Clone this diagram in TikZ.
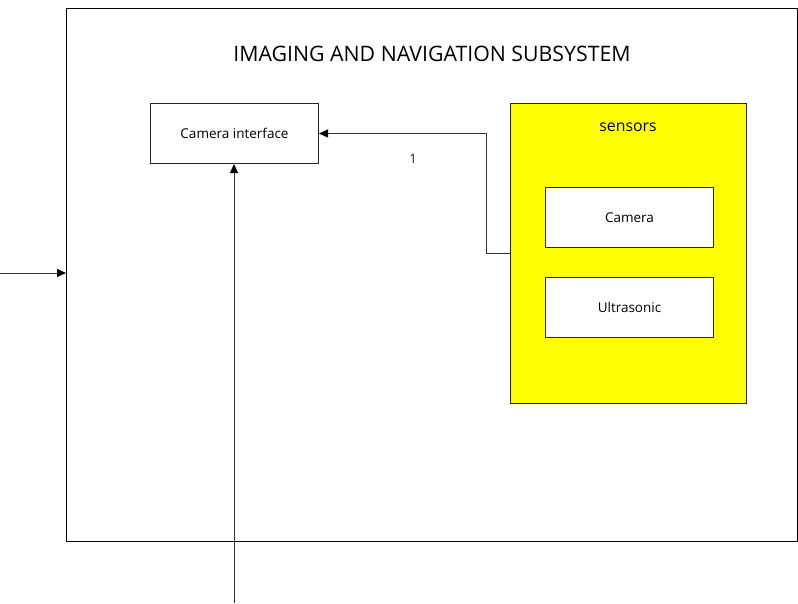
\documentclass[tikz,border=0pt]{standalone}
\usepackage{fontspec}
\setmainfont{Open Sans}
\usetikzlibrary{arrows.meta}
\definecolor{lbl}{RGB}{15,25,110}
\definecolor{sensfill}{RGB}{255,255,0}
\tikzset{
  box/.style={draw=black!85, line width=1pt, fill=white, inner sep=0pt},
  conn/.style={draw=black!80, line width=1pt, -{Triangle[length=9pt,width=8pt,color=black]}},
  small/.style={font=\fontsize{13.5}{16}\selectfont},
}
\begin{document}
\begin{tikzpicture}[x=1pt,y=-1pt]
\useasboundingbox (0,0) rectangle (798,603);
\fill[white] (0,0) rectangle (798,603);
% outer subsystem box
\node[box, draw=black, minimum width=731pt, minimum height=533pt, anchor=north west] (outer) at (66,8) {};
\node[font=\fontsize{21.3}{25}\selectfont] (title) at (432,54) {IMAGING AND NAVIGATION SUBSYSTEM};
% camera interface
\node[box, minimum width=168pt, minimum height=60pt, anchor=north west] (camif) at (150,103) {};
\node[small] (camiftxt) at (camif.center) {Camera interface};
% sensors
\node[box, fill=sensfill, minimum width=236pt, minimum height=300pt, anchor=north west] (sensors) at (510,103) {};
\node[font=\fontsize{15.8}{19}\selectfont] (senslbl) at (628,127) {sensors};
\node[box, minimum width=168pt, minimum height=60pt, anchor=north west] (cam) at (545,187) {};
\node[small] (camtxt) at (cam.center) {Camera};
\node[box, minimum width=168pt, minimum height=60pt, anchor=north west] (ultra) at (545,277) {};
\node[small] (ultratxt) at (ultra.center) {Ultrasonic};
% connectors
\coordinate (sensout) at (510,253);
\coordinate (bend) at (486,253);
\draw[conn] (sensout) -- (bend) |- (camif.east);
\node[font=\fontsize{13}{15}\selectfont, text=lbl] (one) at (413,159) {1};
\coordinate (leftin) at (0,273);
\coordinate (outerleft) at (66,273);
\draw[conn] (leftin) -- (outerleft);
\coordinate (bottomin) at (234,603);
\draw[conn] (bottomin) -- (camif.south -| bottomin);
\end{tikzpicture}
\end{document}
